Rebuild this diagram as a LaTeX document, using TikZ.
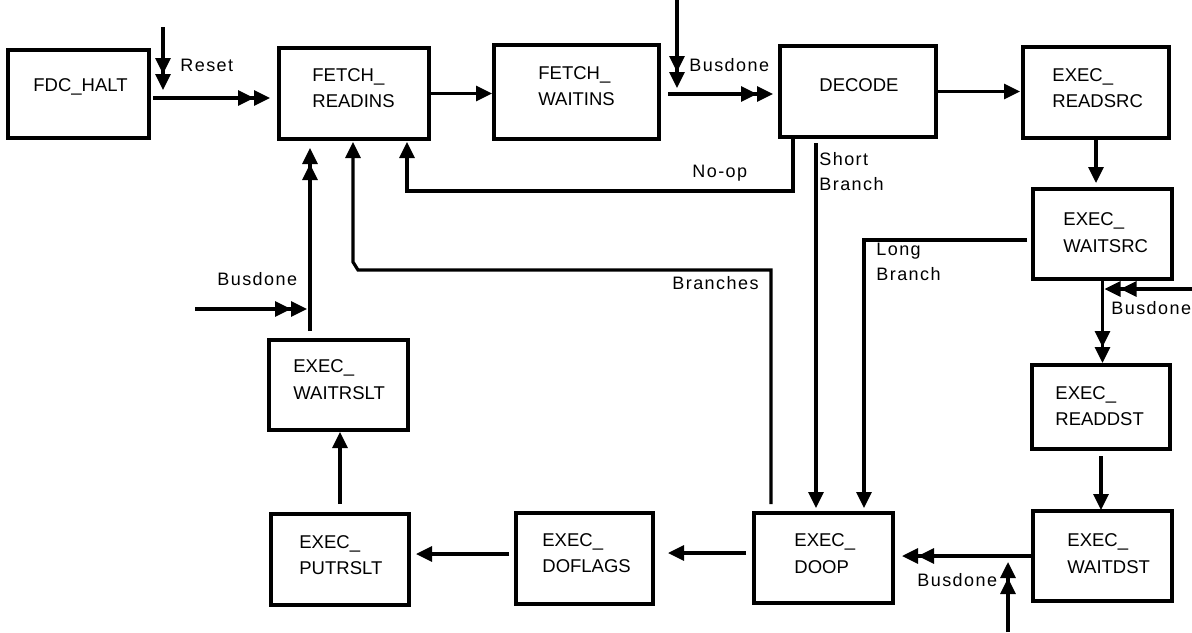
\documentclass[tikz,border=0pt]{standalone}
\usepackage{fontspec}
\setmainfont{Liberation Sans}
\newfontfamily\lblfont{Liberation Sans}[LetterSpace=8]
\usetikzlibrary{arrows.meta}

\begin{document}
\begin{tikzpicture}[x=0.5pt, y=-0.5pt,
  stbox/.style={draw, line width=2pt, inner sep=0pt, outer sep=0pt},
  sttext/.style={anchor=west, align=left, inner sep=0pt, font=\fontsize{9.25}{13.25}\selectfont},
  lbl/.style={anchor=west, align=left, inner sep=0pt, font=\fontsize{9}{12.5}\selectfont\lblfont},
  wire/.style={line width=1.6pt},
  onearr/.style={wire, -{Triangle[length=8pt,width=7.5pt]}},
  twoarr/.style={wire, -{Triangle[length=8pt,width=7.5pt] Triangle[length=8pt,width=7.5pt]}}]
  \useasboundingbox (0,0) rectangle (1192,632);

  \node[stbox, minimum width=70.5pt, minimum height=44pt] (halt) at (78.5,94) {};
  \node[sttext] (halttxt) at (33,87) {FDC\_HALT};
  \node[stbox, minimum width=75pt, minimum height=45.5pt] (readins) at (354,93.5) {};
  \node[sttext] (readinstxt) at (312,88) {FETCH\_\\READINS};
  \node[stbox, minimum width=82.5pt, minimum height=47pt] (waitins) at (576.5,92) {};
  \node[sttext] (waitinstxt) at (538,86) {FETCH\_\\WAITINS};
  \node[stbox, minimum width=78pt, minimum height=45.5pt] (decode) at (858,91.5) {};
  \node[sttext, anchor=center] (decodetxt) at (859,85) {DECODE};
  \node[stbox, minimum width=73pt, minimum height=45.5pt] (readsrc) at (1096,92.5) {};
  \node[sttext] (readsrctxt) at (1052,88) {EXEC\_\\READSRC};
  \node[stbox, minimum width=69.5pt, minimum height=45pt] (waitsrc) at (1102.5,234) {};
  \node[sttext] (waitsrctxt) at (1063,232.5) {EXEC\_\\WAITSRC};
  \node[stbox, minimum width=69pt, minimum height=42pt] (readdst) at (1101,407) {};
  \node[sttext] (readdsttxt) at (1055,406) {EXEC\_\\READDST};
  \node[stbox, minimum width=69.5pt, minimum height=45pt] (waitdst) at (1102.5,556) {};
  \node[sttext] (waitdsttxt) at (1067,553.5) {EXEC\_\\WAITDST};
  \node[stbox, minimum width=69.5pt, minimum height=45pt] (doop) at (823.5,558) {};
  \node[sttext] (dooptxt) at (794,553.5) {EXEC\_\\DOOP};
  \node[stbox, minimum width=68.5pt, minimum height=45.5pt] (doflags) at (584.5,558.5) {};
  \node[sttext] (doflagstxt) at (542,553) {EXEC\_\\DOFLAGS};
  \node[stbox, minimum width=69pt, minimum height=45.5pt] (putrslt) at (340,559.5) {};
  \node[sttext] (putrslttxt) at (299,555) {EXEC\_\\PUTRSLT};
  \node[stbox, minimum width=69.5pt, minimum height=45pt] (waitrslt) at (338.5,385) {};
  \node[sttext] (waitrslttxt) at (293,379.5) {EXEC\_\\WAITRSLT};

  \coordinate (rstin) at (163,27);
  \coordinate (rstend) at (163,90);
  \coordinate (bdtop) at (677,0);
  \coordinate (bdtopend) at (677,88);
  \coordinate (bdright) at (1192,289);
  \coordinate (bdbot) at (1008,632);
  \coordinate (bdbotend) at (1008,562);
  \coordinate (bdleft) at (195,309);

  \draw[twoarr, shorten <=2pt, shorten >=4.5pt] (halt.east |- 0,98) -- (readins.west |- 0,98);
  \draw[twoarr] (rstin) -- (rstend);
  \draw[onearr, shorten >=1pt] (readins.east) -- (readins.east -| waitins.west);
  \draw[twoarr] (bdtop) -- (bdtopend);
  \draw[twoarr, shorten <=4.5pt, shorten >=3.5pt] (waitins.east |- 0,94) -- (decode.west |- 0,94);
  \draw[onearr, shorten <=0.5pt, shorten >=1.5pt] (decode.east) -- (decode.east -| readsrc.west);
  \draw[onearr, shorten >=3pt] (readsrc.south) -- (readsrc.south |- waitsrc.north);
  \draw[twoarr, shorten >=1pt] (waitsrc.south) -- (waitsrc.south |- readdst.north);
  \draw[twoarr, shorten >=1pt] (bdright) -- (bdright -| waitsrc.south);
  \draw[onearr, shorten <=3.5pt, shorten >=0.5pt] (readdst.south) -- (readdst.south |- waitdst.north);
  \draw[twoarr, shorten >=4.5pt] (waitdst.west) -- (waitdst.west -| doop.east);
  \draw[twoarr] (bdbot) -- (bdbotend);
  \draw[onearr, shorten <=4pt, shorten >=7.5pt] (doop.west |- 0,553) -- (doflags.east |- 0,553);
  \draw[onearr, shorten <=3.5pt, shorten >=3.5pt] (doflags.west |- 0,554) -- (putrslt.east |- 0,554);
  \draw[onearr, shorten <=5pt, shorten >=1pt] (putrslt.north) -- (putrslt.north |- waitrslt.south);
  \draw[twoarr, shorten <=4.5pt, shorten >=4.5pt] (waitrslt.north -| 310,0) -- (readins.south -| 310,0);
  \draw[twoarr, shorten >=1.5pt] (bdleft) -- (bdleft -| 310,0);
  \draw[onearr, shorten <=4.5pt, shorten >=1.5pt] (doop.north -| 771,0) -- (771,270) -- (358,270) -- (353,262) -- (readins.south -| 353,0);
  \draw[onearr, shorten >=1.5pt] (decode.south -| 793,0) -- (793,191) -- (407,191) -- (readins.south -| 407,0);
  \draw[onearr, shorten <=3pt, shorten >=2.5pt] (decode.south -| 816,0) -- (doop.north -| 816,0);
  \draw[onearr, shorten <=3pt, shorten >=2.5pt] (waitsrc.west |- 0,240) -- (864,240) -- (doop.north -| 864,0);

  \node[lbl] (lreset) at (180,65) {Reset};
  \node[lbl] (lbdtop) at (689,65) {Busdone};
  \node[lbl] (lnoop) at (692,173) {No-op};
  \node[lbl] (lshort) at (819,171.5) {Short\\Branch};
  \node[lbl] (llong) at (876,261.5) {Long\\Branch};
  \node[lbl] (lbranches) at (672,283) {Branches};
  \node[lbl] (lbdright) at (1111,308) {Busdone};
  \node[lbl] (lbdleft) at (217,279) {Busdone};
  \node[lbl] (lbdbot) at (917,580) {Busdone};
\end{tikzpicture}
\end{document}
